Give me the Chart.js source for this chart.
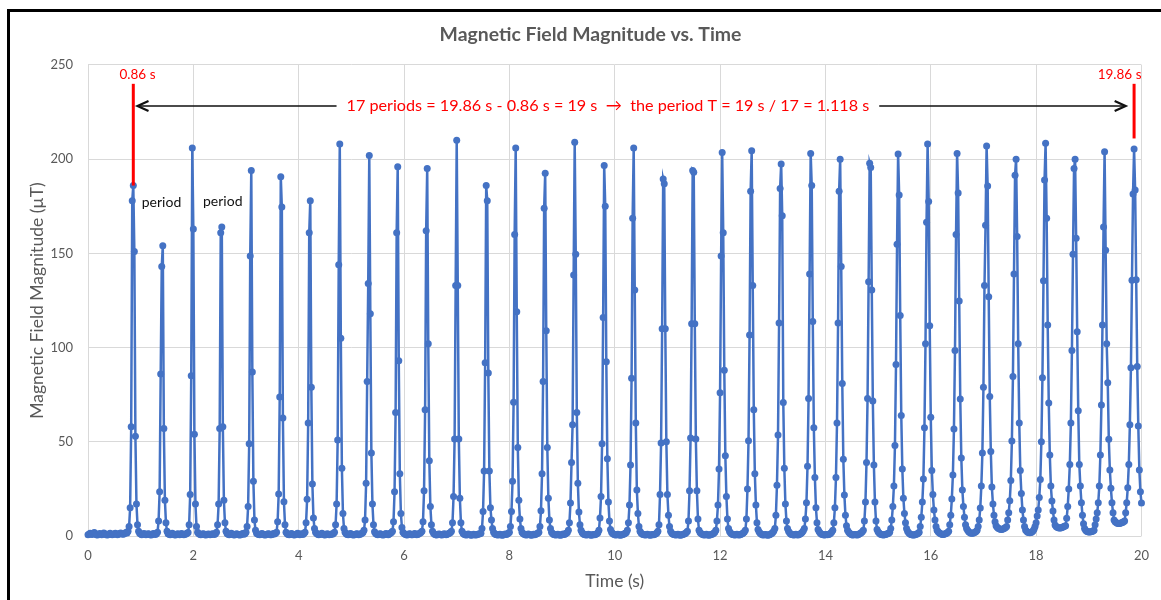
<!DOCTYPE html>
<html>
<head>
<meta charset="utf-8">
<script src="https://cdn.jsdelivr.net/npm/chart.js@4.4.1/dist/chart.umd.min.js"></script>
<style>
  html, body { margin: 0; padding: 0; background: #ffffff; overflow: hidden; }
  #frame { position: absolute; left: 7px; top: 9px; width: 1200px; height: 700px;
           border-left: 3px solid #000; border-top: 3px solid #000; box-sizing: border-box; }
  #wrap { position: absolute; left: 0; top: 0; width: 1161px; height: 600px; }
</style>
</head>
<body>
<div id="frame"></div>
<div id="wrap"><canvas id="chart"></canvas></div>
<script>
// ---- Data (magnetic field magnitude in µT, sampled every 0.02 s starting at t = 0) ----
const fieldSeg1 = [
  0.6, 0.9, 1.4, 1.1, 0.8, 1.5, 1.9, 1.2, 0.7, 0.5,
  0.8, 1.3, 1.0, 0.6, 0.9, 1.6, 1.2, 0.8, 0.5, 0.7,
  1.1, 1.4, 0.9, 0.6, 0.8, 1.2, 1.5, 1.0, 0.7, 0.9,
  1.3, 1.6, 1.2, 0.9, 1.1, 1.4, 1.8, 1.6, 2.5, 5,
  15, 58, 178,
  186,
  151, 53, 17, 6, 2.5, 1.4, 1.0, 0.7, 0.9, 1.3, 1.1, 0.6, 0.8, 1.2, 1.0, 0.7, 0.5, 0.9, 1.3, 1.1, 0.8, 1.2, 2, 8, 23.5, 86, 143,
  154,
  57, 19, 7, 2.5, 1.2, 0.9, 0.6, 1.0, 1.4, 1.1, 0.7, 0.5, 0.8, 1.2, 0.9, 0.6, 1.0, 1.3, 0.8, 0.6, 0.9, 1.1, 1.4, 1.8, 6, 22, 85,
  206,
  163, 54, 17, 5, 2, 1.3, 0.9, 0.6, 0.8, 1.2, 1.0, 0.7, 0.5, 0.8, 1.1, 0.9, 0.6, 0.8, 1.2, 1.0, 0.8, 1.2, 2, 6, 17, 57, 161,
  164,
  58, 19, 7, 2.5, 1.3, 0.9, 0.7, 1.1, 1.4, 1.0, 0.6, 0.5, 0.8, 1.2, 0.9, 0.6, 0.5, 0.7, 1.0, 1.3, 0.9, 1.2, 2, 5, 15.6, 49, 148.6,
  194,
  87, 29, 8.5, 3, 1.5, 1.1, 0.8, 0.6, 0.9, 1.3, 1.1, 0.7, 0.5, 0.6, 0.9, 1.2, 1.0, 0.7, 0.6, 0.9, 1.3, 1.1, 1.4, 2, 7.6, 22.3, 73.8,
  190.7,
  174.6, 62.6, 18.2, 6, 2, 1.2, 0.8, 0.6, 0.9, 1.3, 1.0, 0.7, 0.5, 0.8, 1.1, 1.4, 1.0, 0.7, 0.9, 1.2, 0.8, 1.3, 2, 7, 19.5, 60, 161,
  178,
  79, 27.6, 9.6, 4, 2, 1.3, 0.9, 0.6, 0.8, 1.1, 1.4, 1.0, 0.7, 0.5, 0.8, 1.2, 0.9, 0.6, 0.8, 1.1, 0.9, 1.3, 2, 6, 17, 51, 144,
  208
];
const fieldSeg2 = [
  105, 36, 12, 4, 2, 1.2, 0.8, 0.6, 0.9, 1.3, 1.0, 0.7, 0.5, 0.6, 0.9, 1.2, 1.0, 0.7, 0.9, 1.1, 1.4, 1.8, 3, 8.5, 28, 82, 134,
  202,
  118, 44, 17, 6, 2.2, 1.3, 0.9, 0.6, 0.8, 1.2, 1.0, 0.7, 0.5, 0.7, 1.0, 1.3, 0.9, 0.7, 1.0, 1.4, 1.8, 2.5, 7.6, 23.5, 65.5, 161,
  196,
  93, 33, 12, 4.5, 2, 1.3, 0.9, 0.7, 0.5, 0.8, 1.2, 1.0, 0.7, 0.6, 0.9, 1.3, 1.0, 0.7, 0.8, 1.2, 1.5, 1.9, 2.5, 7.6, 24, 67, 162,
  195,
  102, 40, 15.6, 6, 2.5, 1.4, 0.9, 0.6, 0.5, 0.8, 1.1, 0.9, 0.6, 0.5, 0.8, 1.2, 0.9, 0.7, 0.9, 1.2, 1.5, 1.8, 2.5, 7, 21, 51.5, 133,
  210,
  133, 51.5, 20, 7, 2.5, 1.4, 0.9, 0.6, 0.5, 0.7, 1.0, 0.8, 0.5, 0.4, 0.6, 0.9, 0.7, 0.5, 0.7, 0.9, 1.0, 1.2, 1.5, 4, 13, 34.5, 92,
  186,
  178, 86.5, 34.5, 15, 8.5, 4, 2, 1.2, 0.8, 0.6, 0.5, 0.7, 0.9, 0.6, 0.4, 0.5, 0.8, 1.0, 0.8, 1.1, 1.4, 2, 5, 13, 29, 71, 160,
  206,
  119, 47, 19, 9, 4, 2, 1.3, 0.9, 0.6, 0.5, 0.7, 1.0, 0.8, 0.5, 0.4, 0.6, 0.9, 0.7, 0.9, 1.2, 1.5, 2, 5, 13.4, 33, 82, 174,
  192.5,
  109, 47, 20, 8.5, 4, 2, 1.3, 0.8, 0.6, 0.5, 0.7, 0.9, 0.6, 0.4, 0.5, 0.7, 1.0, 0.8, 1.0, 1.4, 1.9, 3, 7, 17.5, 39, 59, 138.5,
  209,
  149.5, 65.5, 28, 12.7, 6, 3, 1.8, 1.2, 0.8, 0.6, 0.5, 0.7, 0.9, 0.7, 0.5, 0.4, 0.6, 0.8, 0.7, 0.9, 1.2, 1.7, 3, 9.6, 21, 49, 116,
  196.6
];
const fieldSeg3 = [
  175, 92.5, 41, 18, 8, 3.5, 2, 1.3, 0.9, 0.6, 0.5, 0.7, 0.9, 0.6, 0.4, 0.5, 0.7, 0.9, 1.1, 1.4, 1.9, 3, 7, 16.5, 37.7, 83.7, 168.6,
  206,
  130.6, 60, 24.4, 12, 5, 2.5, 1.6, 1.1, 0.8, 0.6, 0.5, 0.7, 0.9, 0.7, 0.5, 0.4, 0.6, 0.8, 0.6, 0.9, 1.2, 1.6, 2.5, 6, 22, 49.3, 110,
  189.5,
  187, 110, 50, 22, 11, 5, 2.5, 1.6, 1.1, 0.8, 0.6, 0.5, 0.7, 0.9, 0.6, 0.4, 0.5, 0.7, 0.9, 1.0, 1.3, 1.8, 2.5, 8, 24, 52, 112.6,
  194,
  193, 112.6, 51.5, 24, 9, 3, 1.9, 1.3, 0.9, 0.6, 0.5, 0.7, 0.9, 0.6, 0.4, 0.5, 0.7, 0.9, 1.1, 1.4, 2.0, 3, 8, 16.5, 35.5, 76, 148.6,
  203.6,
  161, 88, 42.6, 21, 9, 4, 2.4, 1.6, 1.1, 0.8, 0.6, 0.5, 0.7, 0.9, 0.6, 0.5, 0.7, 0.9, 1.2, 1.6, 2.1, 3, 9, 25, 50.6, 106.7, 183,
  204.5,
  133, 67, 33, 16.5, 7, 3.5, 2.2, 1.5, 1.0, 0.7, 0.5, 0.6, 0.8, 0.6, 0.4, 0.5, 0.7, 1.0, 1.3, 1.8, 2.6, 4, 11, 27, 53.6, 113, 184.5,
  197.5,
  170, 70.8, 36, 17, 8, 4, 2.5, 1.7, 1.1, 0.8, 0.6, 0.5, 0.7, 0.9, 0.6, 0.5, 0.8, 1.1, 1.5, 2.0, 2.8, 4, 9, 17.7, 37, 73, 139,
  203,
  186, 113.8, 57.5, 31, 15, 7, 3.5, 2.4, 1.6, 1.1, 0.8, 0.6, 0.5, 0.6, 0.8, 0.6, 0.8, 1.1, 1.5, 2.1, 3, 7, 15, 31, 60, 113, 183,
  200,
  143, 81, 40.7, 21.8, 11, 5.5, 3, 2.1, 1.5, 1.0, 0.7, 0.5, 0.6, 0.8, 0.6, 0.5, 0.7, 1.0, 1.3, 1.7, 2.3, 3, 8, 18, 39, 73, 135,
  197.8
];
const fieldSeg4 = [
  195.6, 130.6, 71.6, 37.7, 18, 8, 3.5, 2.3, 1.6, 1.1, 0.8, 0.6, 0.5, 0.6, 0.8, 1.0, 1.2, 1.5, 2, 4, 8.5, 15.6, 26.5, 48, 91, 154.8,
  202.8,
  181, 117, 64, 35.6, 20, 12, 7, 4, 2.5, 1.7, 1.2, 0.8, 0.6, 0.5, 0.5, 0.7, 0.9, 1.1, 1.4, 2, 5, 10, 18, 30.3, 57.5, 102, 166.5,
  208,
  177.5, 111.6, 63, 34.7, 22, 13.8, 8.5, 5, 3, 2.2, 1.7, 1.3, 1.0, 0.8, 0.8, 1.0, 1.2, 1.5, 1.9, 2.5, 6, 11, 19.6, 32.4, 56.8, 98.4, 160,
  203,
  182, 124.7, 72.7, 41.4, 24.4, 15.6, 10, 6, 4, 3, 2.3, 1.8, 1.5, 1.4, 1.5, 1.7, 2.0, 2.4, 3, 5, 8.5, 14.9, 26.5, 44, 79, 133, 165,
  207,
  185.8, 127, 74, 44.8, 26, 17, 11, 7.6, 5.5, 4.6, 4.1, 3.8, 3.6, 3.5, 3.6, 3.8, 4.1, 4.5, 5, 8.5, 12.4, 18.7, 29.4, 50.4, 84.6, 139, 191.5,
  200,
  159, 102, 60, 34.7, 22.6, 13.8, 8.5, 5, 3.2, 2.5, 2.0, 1.8, 1.7, 1.8, 2.1, 2.7, 3.6, 5, 7, 10.6, 13.8, 20.5, 30, 50, 84, 135.5, 189,
  208.4,
  168.6, 112, 70.6, 43, 26.5, 18.6, 13.3, 8.5, 5.8, 5.0, 4.6, 4.4, 4.3, 4.3, 4.4, 4.6, 4.9, 5.2, 5.5, 9.4, 15.6, 25, 38, 60, 98.4, 149.5, 195,
  200,
  158, 108.4, 66.5, 38, 26.5, 17.7, 11, 6.5, 4, 3, 2.5, 2.2, 2.1, 2.1, 2.2, 2.4, 2.7, 3, 6, 9, 12.4, 17.7, 26.5, 43, 69.5, 112, 164,
  204,
  151.6, 102, 81.4, 51.3, 35, 25.3, 17.7, 12.4, 8.5, 7.6, 7.1, 6.8, 6.7, 6.7, 6.8, 7.0, 7.2, 7.5, 8, 12.4, 17.7, 25.6, 38, 59, 89.3, 135.7, 181.5,
  205.4,
  183.6, 136, 89.9, 58.4, 35, 23.5, 17.5
];
const sampleInterval = 0.02;   // seconds between samples

const xTickStep = 2;  const xMin = 0;  const xMax = 20;
const yTickStep = 50; const yMin = 0;  const yMax = 250;

const chartTitle = 'Magnetic Field Magnitude vs. Time';
const xAxisTitle = 'Time (s)';
const yAxisTitle = 'Magnetic Field Magnitude (µT)';

// annotation content
const markerTimes  = [0.86, 19.86];
const markerLabels = ['0.86 s', '19.86 s'];
const periodText   = '17 periods = 19.86 s - 0.86 s = 19 s  \u2192  the period T = 19 s / 17 = 1.118 s';
const periodWord   = 'period';

// ---- Build the series ----
const fieldValues = fieldSeg1.concat(fieldSeg2, fieldSeg3, fieldSeg4);
if (fieldValues.length !== 1001) console.error('unexpected sample count ' + fieldValues.length);
const points = fieldValues.map((v, i) => ({ x: +(i * sampleInterval).toFixed(2), y: v }));

// ---- Annotation layout (data coordinates) ----
const notes = {
  markerTop: 240, markerBottoms: [186, 211],
  markerLabelX: [0.94, 19.585], markerLabelY: 244.7,
  arrowY: 228.2, textX: 9.87, arrowLeftEnd: 0.94, arrowRightEnd: 19.70, arrowGap: 10,
  periodLabelX: [1.395, 2.558], periodLabelY: [176.8, 177.3]
};

const FONT = 'Lato, "Open Sans", sans-serif';
const RED = '#ff0000';

const notePlugin = {
  id: 'periodNotes',
  afterDatasetsDraw(chart) {
    const { ctx, scales: { x, y } } = chart;
    ctx.save();
    // red markers
    markerTimes.forEach((t, i) => {
      const px = x.getPixelForValue(t);
      ctx.strokeStyle = RED;
      ctx.lineWidth = 3;
      ctx.beginPath();
      ctx.moveTo(px, y.getPixelForValue(notes.markerTop));
      ctx.lineTo(px, y.getPixelForValue(notes.markerBottoms[i]));
      ctx.stroke();
      ctx.fillStyle = RED;
      ctx.font = '13.5px ' + FONT;
      ctx.textAlign = 'center';
      ctx.textBaseline = 'middle';
      ctx.fillText(markerLabels[i], x.getPixelForValue(notes.markerLabelX[i]), y.getPixelForValue(notes.markerLabelY));
    });
    // central text
    ctx.font = '16.2px ' + FONT;
    ctx.fillStyle = RED;
    ctx.textAlign = 'center';
    ctx.textBaseline = 'middle';
    const cx = x.getPixelForValue(notes.textX);
    const ay = y.getPixelForValue(notes.arrowY);
    ctx.fillText(periodText, cx, ay);
    const w = ctx.measureText(periodText).width;
    // arrows
    const leftHead = x.getPixelForValue(notes.arrowLeftEnd);
    const rightHead = x.getPixelForValue(notes.arrowRightEnd);
    ctx.strokeStyle = '#111111';
    ctx.lineWidth = 1.6;
    ctx.beginPath();
    ctx.moveTo(cx - w / 2 - notes.arrowGap, ay); ctx.lineTo(leftHead + 1, ay);
    ctx.moveTo(cx + w / 2 + notes.arrowGap, ay); ctx.lineTo(rightHead - 1, ay);
    ctx.stroke();
    ctx.lineWidth = 2.2;
    ctx.lineJoin = 'miter';
    ctx.beginPath();
    ctx.moveTo(leftHead + 11, ay - 5); ctx.lineTo(leftHead, ay); ctx.lineTo(leftHead + 11, ay + 5);
    ctx.moveTo(rightHead - 11, ay - 5); ctx.lineTo(rightHead, ay); ctx.lineTo(rightHead - 11, ay + 5);
    ctx.stroke();
    // "period" labels
    ctx.fillStyle = '#111111';
    ctx.font = '14px ' + FONT;
    notes.periodLabelX.forEach((t, i) => {
      ctx.fillText(periodWord, x.getPixelForValue(t), y.getPixelForValue(notes.periodLabelY[i]));
    });
    ctx.restore();
  }
};

new Chart(document.getElementById('chart'), {
  type: 'scatter',
  data: {
    datasets: [{
      data: points,
      showLine: true,
      borderColor: '#4472C4',
      backgroundColor: '#4472C4',
      borderWidth: 2.5,
      pointRadius: 3.5,
      pointHoverRadius: 3.5,
      pointBorderWidth: 0,
      tension: 0,
      clip: false
    }]
  },
  options: {
    responsive: true,
    maintainAspectRatio: false,
    animation: false,
    devicePixelRatio: 1,
    events: [],
    layout: { padding: { left: 32, right: 12, top: 0, bottom: 0 } },
    plugins: {
      legend: { display: false },
      tooltip: { enabled: false },
      title: {
        display: true,
        text: chartTitle,
        color: '#595959',
        font: { family: FONT, size: 19.4, weight: 'bold' },
        padding: { top: 23.5, bottom: 18.2 }
      }
    },
    scales: {
      x: {
        type: 'linear',
        min: xMin, max: xMax,
        ticks: { stepSize: xTickStep, color: '#595959', font: { family: FONT, size: 13 }, padding: 12, autoSkip: false, maxRotation: 0 },
        grid: { color: '#d9d9d9', lineWidth: 1, drawTicks: false },
        border: { display: false },
        title: { display: true, text: xAxisTitle, color: '#595959', font: { family: FONT, size: 17.5 }, padding: { top: 0, bottom: 8.5 } },
        afterFit: (s) => { s.height = 64; }
      },
      y: {
        min: yMin, max: yMax,
        ticks: { stepSize: yTickStep, color: '#595959', font: { family: FONT, size: 13 }, padding: 15 },
        grid: { color: '#d9d9d9', lineWidth: 1, drawTicks: false },
        border: { display: false },
        title: { display: true, text: yAxisTitle, color: '#595959', font: { family: FONT, size: 17.5, lineHeight: '10px' }, padding: { top: 0, bottom: 0 } },
        afterFit: (s) => { s.width = 56; }
      }
    }
  },
  plugins: [notePlugin]
});
</script>
</body>
</html>
